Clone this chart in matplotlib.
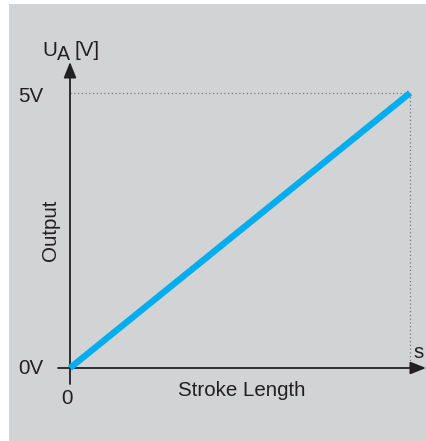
import matplotlib
matplotlib.use("Agg")
import matplotlib.pyplot as plt
from matplotlib.patches import Rectangle

# Data
stroke = [0.0, 1.0]          # normalised stroke length
output_v = [0.0, 5.0]        # output voltage U_A [V]
y_tick_labels = ["0V", "5V"]
x_tick_label = "0"

W, H = 427, 441
plt.rcParams["font.family"] = ["Liberation Sans", "DejaVu Sans"]
fig = plt.figure(figsize=(W / 100, H / 100), dpi=100)
fig.patch.set_facecolor("white")
bg = Rectangle((9 / W, 0), 1 - 9 / W, (H - 4) / H,
               transform=fig.transFigure, facecolor="#d1d3d4",
               edgecolor="none", zorder=-10)
fig.add_artist(bg)

x0, x1 = 70, 410
y0, y1 = 368, 93
ax = fig.add_axes([x0 / W, (H - y0) / H, (x1 - x0) / W, (y0 - y1) / H])
ax.set_zorder(5)
ax.set_xlim(0, 1)
ax.set_ylim(0, 5)
ax.axis("off")
ax.patch.set_alpha(0)

px_x = 1.0 / (x1 - x0)      # data units per pixel along x
px_y = 5.0 / (y0 - y1)      # data units per pixel along y

# dotted guides
ax.plot([0, stroke[1]], [output_v[1], output_v[1]], ls=(0, (1, 2)), color="#7a7a7a",
        lw=0.9, clip_on=False, zorder=2)
ax.plot([stroke[1], stroke[1]], [0, output_v[1]], ls=(0, (1, 2)), color="#7a7a7a",
        lw=0.9, clip_on=False, zorder=2)

# axes with arrows
ax.annotate("", xy=(16 * px_x + 1.0, 0), xytext=(-12 * px_x, 0),
            arrowprops=dict(arrowstyle="-|>,head_length=0.95,head_width=0.38",
                            color="#231f20", lw=1.3, shrinkA=0, shrinkB=0),
            annotation_clip=False, zorder=3)
ax.annotate("", xy=(0, 5 + 31 * px_y), xytext=(0, -16 * px_y),
            arrowprops=dict(arrowstyle="-|>,head_length=0.95,head_width=0.38",
                            color="#231f20", lw=1.3, shrinkA=0, shrinkB=0),
            annotation_clip=False, zorder=3)

# data line
ax.plot(stroke, output_v, color="#00aeef", lw=4.6, solid_capstyle="butt",
        clip_on=False, zorder=4)

tc = "#231f20"
fs = 14.8
ax.text(-27 * px_x, output_v[0], y_tick_labels[0], ha="right", va="center", fontsize=fs, color=tc)
ax.text(-27 * px_x, output_v[1] - 4 * px_y, y_tick_labels[1], ha="right", va="center", fontsize=fs, color=tc)
ax.text(-3 * px_x, -30 * px_y, x_tick_label, ha="center", va="center", fontsize=fs, color=tc)
ax.text(0.506, -22 * px_y, "Stroke Length", ha="center", va="center", fontsize=fs, color=tc)
ax.text(-19 * px_x, (368 - 230) * px_y, "Output", ha="center", va="center",
        rotation=90, fontsize=fs, color=tc)
ax.text(1.0 + 9 * px_x, 16 * px_y, "s", ha="center", va="center", fontsize=fs, color=tc)
# axis unit label U_A [V]
ax.text(-28 * px_x, 5 + 43 * px_y, "U", ha="left", va="center", fontsize=fs, color=tc)
ax.text(-13 * px_x, 5 + 38 * px_y, "A", ha="left", va="center", fontsize=fs * 0.95, color=tc)
ax.text(5 * px_x, 5 + 43 * px_y, "[V]", ha="left", va="center", fontsize=fs, color=tc)

fig.savefig("out.png", dpi=100)
